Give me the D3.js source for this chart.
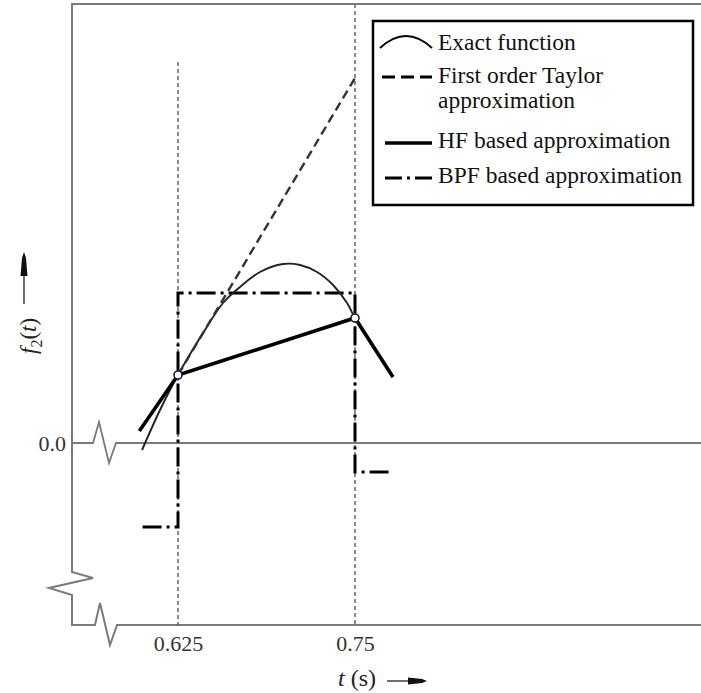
<!DOCTYPE html>
<html>
<head>
<meta charset="utf-8">
<script src="https://cdn.jsdelivr.net/npm/d3@7"></script>
<style>
  body { margin: 0; background: #fff; }
  svg { display: block; font-family: "Liberation Serif", "Times New Roman", serif; }
</style>
</head>
<body>
<div class="container"></div>
<script>
// exact function f2(t)
var exactT = [0.5996, 0.6123, 0.625, 0.6427, 0.6568, 0.6688, 0.6829, 0.6992, 0.7112, 0.7232, 0.7345, 0.7444, 0.75, 0.7768];
var exactY = [-0.07, 0.33, 0.68, 1.10, 1.40, 1.56, 1.71, 1.79, 1.78, 1.71, 1.58, 1.40, 1.25, 0.66];

// first order Taylor approximation
var taylorT = [0.625, 0.75];
var taylorY = [0.68, 3.65];

// HF based approximation
var hfT = [0.5977, 0.625, 0.75, 0.7768];
var hfY = [0.12, 0.68, 1.25, 0.66];

// BPF based approximation (step values)
var bpfT = [0.6, 0.625, 0.75, 0.777];
var bpfY = [-0.84, 1.50, -0.29, -0.29];

var sampleT = [0.625, 0.75];
var xTicks = [0.625, 0.75];
var yTicks = [0];

var legendLabels = [["Exact function"], ["First order Taylor", "approximation"], ["HF based approximation"], ["BPF based approximation"]];

const WIDTH = 701;
const HEIGHT = 693;
const AXIS_X = 72;
const TOP = 4;
const BOTTOM = 625;
const SERIF = '"Liberation Serif", "Times New Roman", serif';

var xScale = d3.scaleLinear().domain([0.625, 0.75]).range([178, 355]);
var yScale = d3.scaleLinear().domain([0, 1]).range([443, 343]);

var zip = function (a, b) { return a.map(function (v, i) { return [v, b[i]]; }); };

var svg = d3.select('.container').append('svg')
  .attr('width', WIDTH)
  .attr('height', HEIGHT);

var plain = d3.line();
var AXIS_COL = '#7a7a7a';

// frame: top line, left axis with break, bottom axis with break
svg.append('path')
  .attr('d', plain([[WIDTH, TOP], [AXIS_X, TOP], [AXIS_X, 572], [93, 578], [49, 588], [AXIS_X, 595], [AXIS_X, BOTTOM],
                    [95, BOTTOM], [100, 603], [110, 645], [117, BOTTOM], [WIDTH, BOTTOM]]))
  .attr('fill', 'none').attr('stroke', AXIS_COL).attr('stroke-width', 2);

// zero line with break
var y0 = yScale(0);
svg.append('path')
  .attr('d', plain([[AXIS_X, y0], [93, y0], [99, y0 - 21], [109, y0 + 20], [116, y0], [WIDTH, y0]]))
  .attr('fill', 'none').attr('stroke', AXIS_COL).attr('stroke-width', 1.8);

// dotted vertical guides
svg.append('line')
  .attr('x1', xScale(0.625)).attr('x2', xScale(0.625)).attr('y1', 62).attr('y2', BOTTOM)
  .attr('stroke', '#666').attr('stroke-width', 1.5).attr('stroke-dasharray', '4,3');
svg.append('line')
  .attr('x1', xScale(0.75)).attr('x2', xScale(0.75)).attr('y1', TOP).attr('y2', BOTTOM)
  .attr('stroke', '#666').attr('stroke-width', 1.5).attr('stroke-dasharray', '4,3');

// axes tick labels
var xAxis = d3.axisBottom(xScale).tickValues(xTicks).tickSize(0).tickPadding(10)
  .tickFormat(function (d) { return String(d); });
var gx = svg.append('g').attr('transform', 'translate(0,' + BOTTOM + ')').call(xAxis);
gx.select('.domain').remove();
gx.selectAll('text').attr('font-size', 22).attr('font-family', SERIF).attr('fill', '#333');

var yAxis = d3.axisLeft(yScale).tickValues(yTicks).tickSize(0).tickPadding(6).tickFormat(d3.format('.1f'));
var gy = svg.append('g').attr('transform', 'translate(' + AXIS_X + ',0)').call(yAxis);
gy.select('.domain').remove();
gy.selectAll('text').attr('font-size', 22).attr('font-family', SERIF).attr('fill', '#333');

var line = d3.line()
  .x(function (d) { return xScale(d[0]); })
  .y(function (d) { return yScale(d[1]); });

// BPF
svg.append('path')
  .attr('d', line.curve(d3.curveStepAfter)(zip(bpfT, bpfY)))
  .attr('fill', 'none').attr('stroke', '#000').attr('stroke-width', 3)
  .attr('stroke-dasharray', '19,5,3,5');

// exact function
svg.append('path')
  .attr('d', line.curve(d3.curveCatmullRom)(zip(exactT, exactY)))
  .attr('fill', 'none').attr('stroke', '#222').attr('stroke-width', 1.9);

// Taylor
svg.append('path')
  .attr('d', line.curve(d3.curveLinear)(zip(taylorT, taylorY)))
  .attr('fill', 'none').attr('stroke', '#333').attr('stroke-width', 2.4)
  .attr('stroke-dasharray', '9,5');

// HF
svg.append('path')
  .attr('d', line.curve(d3.curveLinear)(zip(hfT, hfY)))
  .attr('fill', 'none').attr('stroke', '#000').attr('stroke-width', 3.6);

// sample points
svg.selectAll('.pt').data(sampleT).enter().append('circle')
  .attr('cx', function (d) { return xScale(d); })
  .attr('cy', function (d) { return yScale(hfY[hfT.indexOf(d)]); })
  .attr('r', 4)
  .attr('fill', '#fff').attr('stroke', '#1a1a4a').attr('stroke-width', 1.6);

// axis titles
var yl = svg.append('g').attr('transform', 'translate(36,354) rotate(-90)');
var ylt = yl.append('text').attr('font-size', 23).attr('fill', '#222');
ylt.append('tspan').attr('font-style', 'italic').text('f');
ylt.append('tspan').attr('font-size', 16).attr('dy', 6).text('2');
ylt.append('tspan').attr('dy', -6).text('(');
ylt.append('tspan').attr('font-style', 'italic').text('t');
ylt.append('tspan').text(')');
yl.append('line').attr('x1', 50).attr('x2', 86).attr('y1', -12).attr('y2', -12)
  .attr('stroke', '#333').attr('stroke-width', 1.4);
yl.append('path').attr('d', plain([[78, -15.5], [96, -14], [102, -12], [96, -10], [78, -8.5]])).attr('fill', '#111');

var xl = svg.append('g').attr('transform', 'translate(338,686)');
var xlt = xl.append('text').attr('font-size', 24).attr('fill', '#222');
xlt.append('tspan').attr('font-style', 'italic').text('t');
xlt.append('tspan').text(' (s)');
xl.append('line').attr('x1', 49).attr('x2', 78).attr('y1', -5).attr('y2', -5)
  .attr('stroke', '#333').attr('stroke-width', 1.4);
xl.append('path').attr('d', plain([[70, -8.5], [84, -7], [89, -5], [84, -3], [70, -1.5]])).attr('fill', '#111');

// legend
var lg = svg.append('g');
lg.append('rect').attr('x', 373).attr('y', 21).attr('width', 320).attr('height', 184)
  .attr('fill', '#fff').attr('stroke', '#000').attr('stroke-width', 2.5);

var symY = [45, 77, 143, 178];
var textY = [[50], [83, 108], [148], [183]];
var symStyles = [
  { w: 2, dash: null },
  { w: 3, dash: '13,6' },
  { w: 3.5, dash: null },
  { w: 3, dash: '17,5,3,5' }
];
symStyles.forEach(function (s, i) {
  var p;
  if (i === 0) {
    p = lg.append('path').attr('d', 'M380,48 Q406,24 432,48');
  } else {
    p = lg.append('line').attr('x1', i === 1 ? 382 : 385).attr('x2', 432).attr('y1', symY[i]).attr('y2', symY[i]);
  }
  p.attr('fill', 'none').attr('stroke', '#000').attr('stroke-width', s.w);
  if (s.dash) p.attr('stroke-dasharray', s.dash);
  legendLabels[i].forEach(function (t, j) {
    lg.append('text').attr('x', 438).attr('y', textY[i][j]).attr('font-size', 23.5).attr('fill', '#111').text(t);
  });
});
</script>
</body>
</html>
